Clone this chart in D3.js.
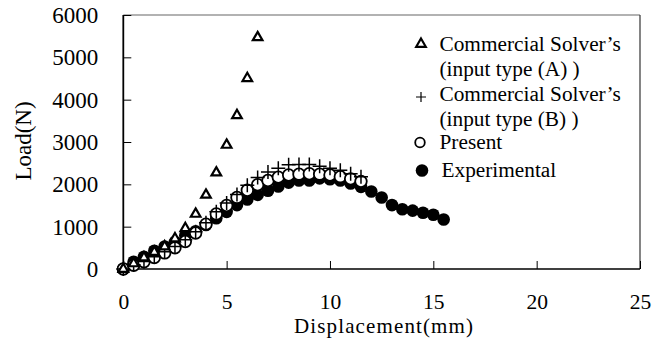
<!DOCTYPE html>
<html><head><meta charset="utf-8">
<script src="https://cdn.jsdelivr.net/npm/d3@7"></script>
<style>
body{margin:0;background:#fff}
svg{display:block}
text{font-family:"Liberation Serif","Times New Roman",serif;fill:#000}
</style></head>
<body>
<script>
const xTicks = [0, 5, 10, 15, 20, 25];
const yTicks = [0, 1000, 2000, 3000, 4000, 5000, 6000];

const solverA_x = [0, 0.5, 1.0, 1.5, 2.0, 2.5, 3.0, 3.5, 4.0, 4.5, 5.0, 5.5, 6.0, 6.5];
const solverA_y = [0, 130, 270, 400, 530, 720, 960, 1300, 1750, 2275, 2930, 3630, 4505, 5470];

const solverB_x = [0, 0.5, 1.0, 1.5, 2.0, 2.5, 3.0, 3.5, 4.0, 4.5, 5.0, 5.5, 6.0, 6.5, 7.0, 7.5, 8.0, 8.5, 9.0, 9.5, 10.0, 10.5, 11.0, 11.5];
const solverB_y = [0, 100, 180, 290, 410, 530, 690, 880, 1090, 1350, 1560, 1760, 1980, 2160, 2290, 2380, 2460, 2470, 2470, 2430, 2380, 2330, 2250, 2180];

const present_x = [0, 0.5, 1.0, 1.5, 2.0, 2.5, 3.0, 3.5, 4.0, 4.5, 5.0, 5.5, 6.0, 6.5, 7.0, 7.5, 8.0, 8.5, 9.0, 9.5, 10.0, 10.5, 11.0, 11.5];
const present_y = [0, 90, 170, 270, 380, 500, 650, 850, 1060, 1300, 1500, 1690, 1860, 1990, 2090, 2170, 2220, 2240, 2250, 2240, 2220, 2180, 2130, 2070];

const exp_x = [0, 0.5, 1.0, 1.5, 2.0, 2.5, 3.0, 3.5, 4.0, 4.5, 5.0, 5.5, 6.0, 6.5, 7.0, 7.5, 8.0, 8.5, 9.0, 9.5, 10.0, 10.5, 11.0, 11.5, 12.0, 12.5, 13.0, 13.5, 14.0, 14.5, 15.0, 15.5];
const exp_y = [0, 170, 290, 430, 530, 640, 790, 890, 1040, 1200, 1350, 1510, 1640, 1750, 1850, 1950, 2040, 2090, 2090, 2140, 2120, 2090, 2020, 1940, 1830, 1690, 1510, 1410, 1380, 1330, 1280, 1170];

const legendLabels = [
  ["Commercial Solver\u2019s", "(input type (A) )"],
  ["Commercial Solver\u2019s", "(input type (B) )"],
  ["Present"],
  ["Experimental"]
];

const W = 664, H = 342;
const svg = d3.select("body").append("svg").attr("width", W).attr("height", H);

const x = d3.scaleLinear().domain([0, 25]).range([123.3, 640]);
const y = d3.scaleLinear().domain([0, 6000]).range([269, 15]);

// frame top/right
svg.append("line").attr("x1", x(0)).attr("x2", x(25)).attr("y1", y(6000)).attr("y2", y(6000))
  .attr("stroke", "#666").attr("stroke-width", 1.2);
svg.append("line").attr("x1", x(25)).attr("x2", x(25)).attr("y1", y(6000)).attr("y2", y(0))
  .attr("stroke", "#333").attr("stroke-width", 1.2);

// axes
const xAxis = d3.axisBottom(x).tickValues(xTicks).tickSize(-8).tickPadding(0).tickFormat(d3.format("d"));
const gx = svg.append("g").attr("transform", `translate(0,${y(0)})`).call(xAxis);
gx.select(".domain").remove();
gx.selectAll(".tick line").attr("stroke", "#000").attr("stroke-width", 1);
gx.selectAll(".tick text").attr("font-size", 21.5).attr("dy", null).attr("y", 39.5)
  .attr("font-family", "Liberation Serif").attr("fill", "#000");

const yAxis = d3.axisLeft(y).tickValues(yTicks).tickSize(-8).tickPadding(0).tickFormat(d3.format("d"));
const gy = svg.append("g").attr("transform", `translate(${x(0)},0)`).call(yAxis);
gy.select(".domain").remove();
gy.selectAll(".tick line").attr("stroke", "#000").attr("stroke-width", 1);
gy.selectAll(".tick text").attr("font-size", 23).attr("x", -25).attr("dy", "0.33em")
  .attr("font-family", "Liberation Serif").attr("fill", "#000");

svg.append("line").attr("x1", x(0)).attr("x2", x(25)).attr("y1", y(0)).attr("y2", y(0)).attr("stroke", "#000").attr("stroke-width", 1.6);
svg.append("line").attr("x1", x(0)).attr("x2", x(0)).attr("y1", y(0)).attr("y2", y(6000)).attr("stroke", "#000").attr("stroke-width", 1.8);

// axis titles
svg.append("text").attr("x", 383.5).attr("y", 332.5).attr("text-anchor", "middle")
  .attr("font-size", 21).attr("textLength", 179).attr("lengthAdjust", "spacing").text("Displacement(mm)");
svg.append("text").attr("transform", "translate(31,141) rotate(-90)").attr("text-anchor", "middle")
  .attr("font-size", 23).text("Load(N)");

// series
const zip = (xs, ys) => xs.map((v, i) => [v, ys[i]]);
const tri = d3.symbol().type(d3.symbolTriangle).size(40);

svg.append("g").selectAll("circle").data(zip(exp_x, exp_y)).join("circle")
  .attr("cx", d => x(d[0])).attr("cy", d => y(d[1])).attr("r", 6.3).attr("fill", "#000");

svg.append("g").selectAll("circle").data(zip(present_x, present_y)).join("circle")
  .attr("cx", d => x(d[0])).attr("cy", d => y(d[1])).attr("r", 5.8)
  .attr("fill", "#fff").attr("stroke", "#000").attr("stroke-width", 1.8);

const plusG = svg.append("g").attr("stroke", "#000").attr("stroke-width", 1.5);
plusG.selectAll("path").data(zip(solverB_x, solverB_y)).join("path")
  .attr("d", d => { const cx = x(d[0]), cy = y(d[1]), s = 7; return `M${cx - s},${cy}H${cx + s}M${cx},${cy - s}V${cy + s}`; });

svg.append("g").selectAll("path").data(zip(solverA_x, solverA_y)).join("path")
  .attr("transform", d => `translate(${x(d[0])},${y(d[1])})`)
  .attr("d", tri).attr("fill", "#fff").attr("stroke", "#000").attr("stroke-width", 2.2);

// legend
const lg = svg.append("g");
const lx = 421, tx = 439.5;
lg.append("path").attr("transform", `translate(${lx},44)`).attr("d", tri)
  .attr("fill", "#fff").attr("stroke", "#000").attr("stroke-width", 2.2);
lg.append("path").attr("d", `M${lx - 5},97H${lx + 5}M${lx},92V102`).attr("stroke", "#000").attr("stroke-width", 1.2);
lg.append("circle").attr("cx", lx - 1).attr("cy", 142.5).attr("r", 4.8).attr("fill", "#fff").attr("stroke", "#000").attr("stroke-width", 1.8);
lg.append("circle").attr("cx", lx + 1).attr("cy", 170.5).attr("r", 6.3).attr("fill", "#000");

const rowsY = [[44, 69], [94, 119], [142], [170]];
legendLabels.forEach((lines, i) => {
  lines.forEach((t, j) => {
    lg.append("text").attr("x", i === 3 ? tx + 2 : tx).attr("y", rowsY[i][j]).attr("dy", "0.35em")
      .attr("font-size", 21.3).text(t);
  });
});
</script>
</body></html>
